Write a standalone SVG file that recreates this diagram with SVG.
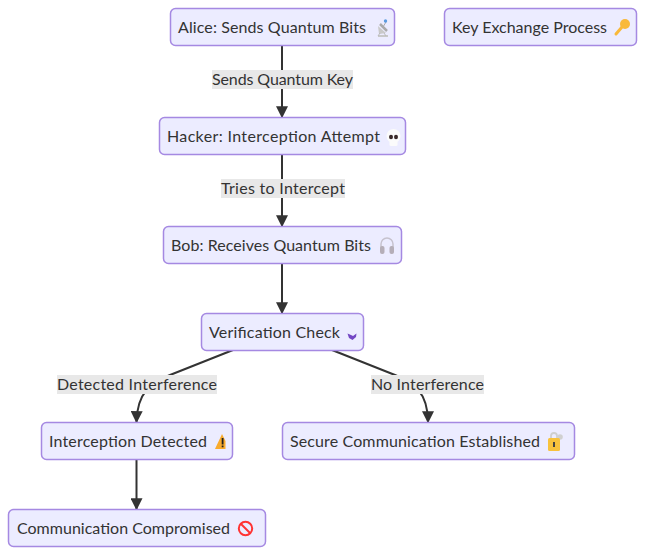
<svg xmlns="http://www.w3.org/2000/svg" width="645" height="554" viewBox="0 0 645 554">
<style>
.n{fill:#ececff;stroke:#a589e2;stroke-width:1.5}
.t{font-family:"Lato",sans-serif;font-size:16px;fill:#333;text-anchor:start}
.e{fill:none;stroke:#333;stroke-width:2}
.lb{fill:#e8e8e8}
.lt{font-family:"Lato",sans-serif;font-size:16px;fill:#333;text-anchor:start}
</style>
<defs>
<marker id="arrow" viewBox="0 0 10 10" refX="9" refY="5" markerWidth="12" markerHeight="12" markerUnits="userSpaceOnUse" orient="auto"><path d="M0 0L10 5L0 10z" fill="#333"/></marker>
</defs>
<g id="connectors">
<path class="e" d="M282 45V117" marker-end="url(#arrow)"/>
<path class="e" d="M282 154V226" marker-end="url(#arrow)"/>
<path class="e" d="M282 263V313" marker-end="url(#arrow)"/>
<path class="e" d="M233 350L170 375C152 382 137 392 136.500 422" marker-end="url(#arrow)"/>
<path class="e" d="M332 350L395 375C413 382 428 392 428 422" marker-end="url(#arrow)"/>
<path class="e" d="M136.500 459V509" marker-end="url(#arrow)"/>
</g>
<g id="edge-labels">
<rect class="lb" x="212" y="70" width="141" height="19"/><text class="lt" x="212" y="85" textLength="141">Sends Quantum Key</text>
<rect class="lb" x="221" y="179" width="124" height="19"/><text class="lt" x="221" y="194" textLength="124">Tries to Intercept</text>
<rect class="lb" x="57" y="375" width="160" height="19"/><text class="lt" x="57" y="390" textLength="160">Detected Interference</text>
<rect class="lb" x="371" y="375" width="113" height="19"/><text class="lt" x="371" y="390" textLength="113">No Interference</text>
</g>
<g id="alice"><rect class="n" x="170.500" y="8.500" width="224" height="37" rx="5"/><text class="t" x="178" y="33" textLength="188">Alice: Sends Quantum Bits</text>
<path d="M378 26L386 33L379 34z" fill="#c9c9c9"/><path d="M380 24L387 31" stroke="#aaa" stroke-width="2.500"/><path d="M383 27L386 22" stroke="#aaa" stroke-width="1"/><path d="M378 35H388V37H378z" fill="#c8c8c8"/><path d="M380 33L378 36M384 33L386 36" stroke="#bbb"/><circle cx="385.500" cy="21" r="1.700" fill="#5b9be0"/></g>
<g id="key-exchange"><rect class="n" x="444.500" y="8.500" width="192" height="37" rx="5"/><text class="t" x="452" y="33" textLength="155">Key Exchange Process</text>
<circle cx="625" cy="24" r="5" fill="#f9b93a"/><path d="M622 27L616 34" stroke="#f9b93a" stroke-width="3" stroke-linecap="round"/></g>
<g id="hacker"><rect class="n" x="159.500" y="117.500" width="246" height="37" rx="5"/><text class="t" x="167" y="142" textLength="213">Hacker: Interception Attempt</text>
<circle cx="393.500" cy="136" r="7" fill="#fbfbfb"/><rect x="389.500" y="140" width="8" height="6" rx="1.500" fill="#fbfbfb"/><ellipse cx="391" cy="137" rx="2" ry="2.200" fill="#3a2a2a"/><ellipse cx="396" cy="137" rx="2" ry="2.200" fill="#3a2a2a"/></g>
<g id="bob"><rect class="n" x="163.500" y="226.500" width="238" height="37" rx="5"/><text class="t" x="171" y="251" textLength="200">Bob: Receives Quantum Bits</text>
<path d="M381 249V244a6 6 0 0 1 12 0V249" fill="none" stroke="#c6c2ce" stroke-width="1.500"/><rect x="380" y="246" width="4.500" height="8" rx="2" fill="#b5aeb8"/><rect x="389.500" y="246" width="4.500" height="8" rx="2" fill="#b5aeb8"/></g>
<g id="verification"><rect class="n" x="201.500" y="313.500" width="162" height="37" rx="5"/><text class="t" x="209" y="338" textLength="131">Verification Check</text>
<path d="M347.500 333.500L351 335L353 336L356.500 333.500L356 337L352.500 340L349 338z" fill="#7347c4"/></g>
<g id="detected"><rect class="n" x="41.500" y="422.500" width="191" height="37" rx="5"/><text class="t" x="49" y="447" textLength="158">Interception Detected</text>
<path d="M215 449L222 434L225.500 441V449z" fill="#f9ab2e"/><rect x="221.700" y="438" width="1.800" height="6.500" fill="#222"/><rect x="221.700" y="445.500" width="1.800" height="1.800" fill="#222"/></g>
<g id="secure"><rect class="n" x="282.500" y="422.500" width="292" height="37" rx="5"/><text class="t" x="290" y="447" textLength="250">Secure Communication Established</text>
<path d="M551 439V436a3 3 0 0 1 6 0V439" fill="none" stroke="#cfcfcf" stroke-width="1.800"/><circle cx="560" cy="437" r="2.800" fill="#d0d0d0"/><rect x="548" y="438" width="12" height="13" rx="1.500" fill="#f8c23c"/><rect x="553" y="442" width="2" height="5" fill="#444"/></g>
<g id="compromised"><rect class="n" x="8.500" y="509.500" width="257" height="37" rx="5"/><text class="t" x="17" y="534" textLength="213">Communication Compromised</text>
<g transform="translate(245.500,528.500)"><circle r="6.700" fill="none" stroke="#f33" stroke-width="2"/><path d="M-4.500 -4.500L4.500 4.500" stroke="#f33" stroke-width="2"/></g></g>
</svg>
